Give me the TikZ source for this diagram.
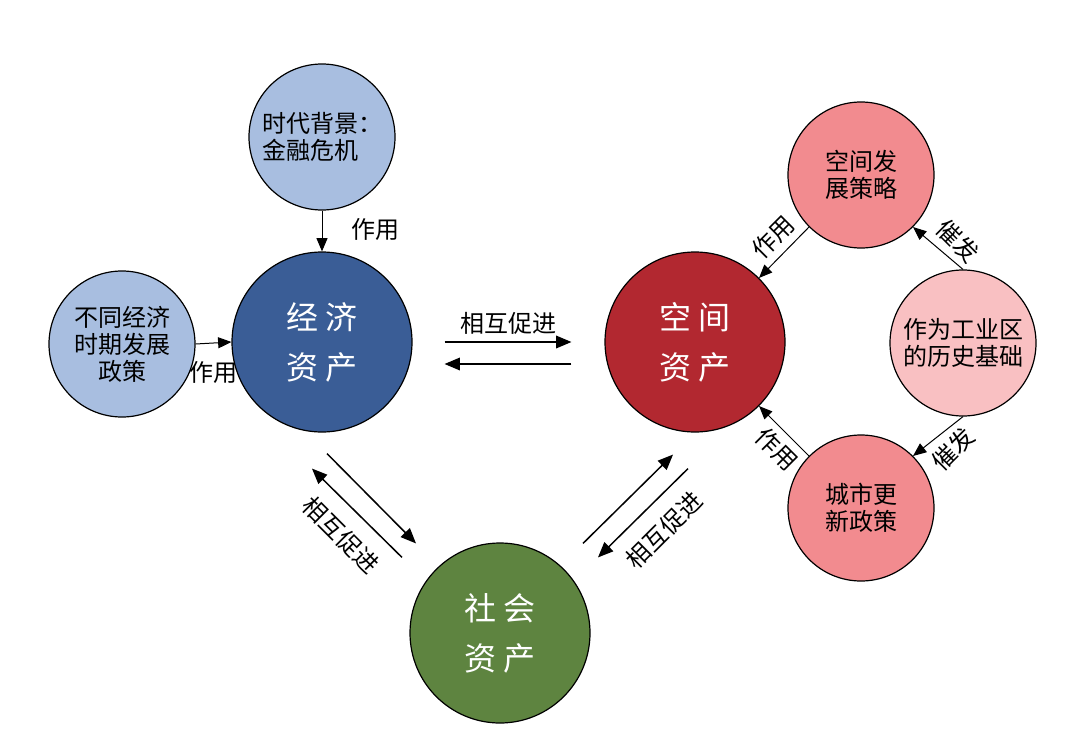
\documentclass[tikz,border=0pt]{standalone}
\usepackage{fontspec}
\usepackage[usenames]{xcolor}
\usepackage{tikz}
\usetikzlibrary{arrows}
\newfontfamily\cjk{Noto Sans CJK SC}

\definecolor{paleblue}{RGB}{168,190,224}
\definecolor{darkblue}{RGB}{58,93,150}
\definecolor{darkred}{RGB}{178,40,48}
\definecolor{rosepink}{RGB}{242,139,143}
\definecolor{palepink}{RGB}{249,192,194}
\definecolor{leafgreen}{RGB}{94,132,64}

\tikzset{
  asset/.style={circle,draw=black,line width=0.6pt,minimum size=90pt,inner sep=0pt,
    align=center,text=white,font=\cjk\fontsize{16}{25}\selectfont},
  factor/.style={circle,draw=black,line width=0.6pt,minimum size=73pt,inner sep=0pt,
    align=center,font=\cjk\fontsize{12}{13.5}\selectfont},
  lab/.style={font=\cjk\fontsize{12}{14}\selectfont},
  pair/.style={line width=0.75pt},
  thin/.style={line width=0.5pt}
}

\begin{document}
\begin{tikzpicture}[x=0.5pt,y=-0.5pt]
\useasboundingbox (0,0) rectangle (1081,739);
\begin{scope}[>=triangle 45]
    % three assets
    \node[asset,fill=darkblue] (jj) at (322,342) {经 济\\资 产};
    \node[asset,fill=darkred] (kj) at (695,342) {空 间\\资 产};
    \node[asset,fill=leafgreen] (sh) at (500,633) {社 会\\资 产};

    % outer factors
    \node[factor,fill=paleblue,align=left] (sd) at (322,137) {时代背景：\\金融危机};
    \node[factor,fill=paleblue] (zc) at (122,344) {不同经济\\时期发展\\政策};
    \node[factor,fill=rosepink] (kf) at (861,175) {空间发\\展策略};
    \node[factor,fill=palepink] (gy) at (963,343) {作为工业区\\的历史基础};
    \node[factor,fill=rosepink] (cs) at (861,508) {城市更\\新政策};

    % single arrows
    \draw[thin,->] (sd) -- (jj);
    \draw[thin,->] (zc.east) -- (jj.west);
    \draw[thin,->] (kf.225) -- (kj.45);
    \draw[thin,->] (cs.135) -- (kj.-45);
    \draw[thin,->] (gy.north) -- (kf.-45);
    \draw[thin,->] (gy.south) -- (cs.45);

    % mutual arrows
    \draw[pair,->] ([shift={(32,0)}]jj.east) -- ([shift={(-33,0)}]kj.west);
    \draw[pair,->] ([shift={(-33,22)}]kj.west) -- ([shift={(32,22)}]jj.east);
    \draw[pair,->] ([shift={(5,21)}]jj.south) -- ([shift={(-84,1)}]sh.north);
    \draw[pair,->] ([shift={(-98,15)}]sh.north) -- ([shift={(-10,36)}]jj.south);
    \draw[pair,->] ([shift={(83,1)}]sh.north) -- ([shift={(-22,22)}]kj.south);
    \draw[pair,->] ([shift={(-7,36)}]kj.south) -- ([shift={(98,15)}]sh.north);

    % labels
    \node[lab] (l1) at (375,229) {作用};
    \node[lab] (l2) at (213,372) {作用};
    \node[lab] (l3) at (508,323) {相互促进};
    \node[lab,rotate=-45] (l4) at (341,535) {相互促进};
    \node[lab,rotate=45] (l5) at (664,530) {相互促进};
    \node[lab,rotate=45] (l6) at (773,237) {作用};
    \node[lab,rotate=-45] (l7) at (958,241) {催发};
    \node[lab,rotate=45] (l8) at (953,449) {催发};
    \node[lab,rotate=-45] (l9) at (777,449) {作用};
\end{scope}
\end{tikzpicture}
\end{document}
